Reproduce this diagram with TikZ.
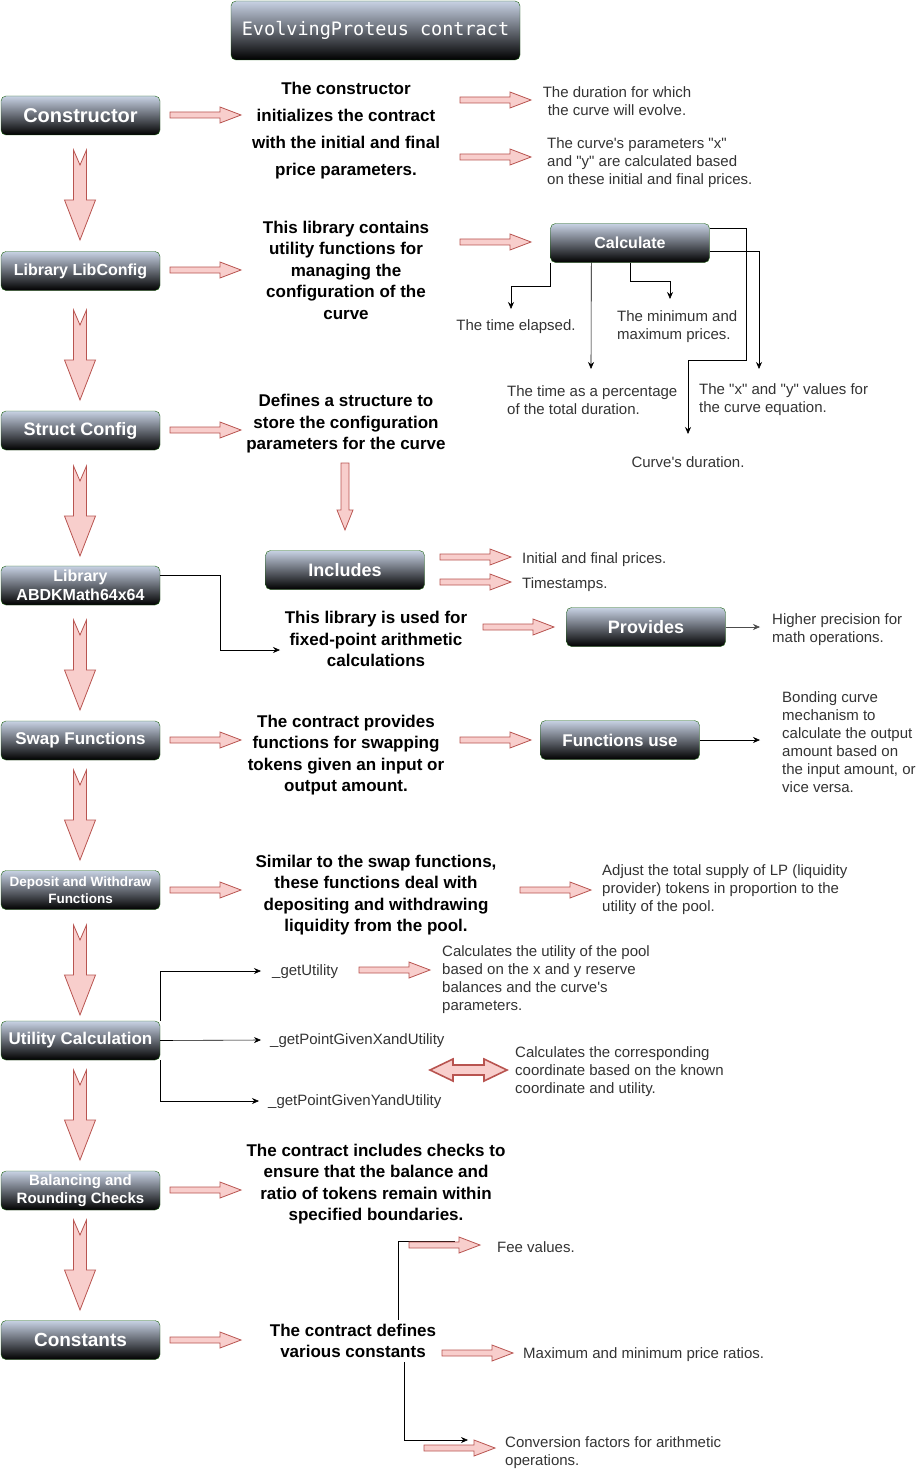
\documentclass[tikz,border=0pt]{standalone}
\usepackage{fontspec}
\setmainfont{Liberation Sans}
\setmonofont{DejaVu Sans Mono}
\usetikzlibrary{arrows.meta}

\definecolor{boxtop}{RGB}{200,210,228}
\definecolor{boxline}{RGB}{30,100,20}
\definecolor{arrfill}{RGB}{248,206,204}
\definecolor{arrline}{RGB}{184,84,80}
\newcommand{\qq}{\textquotedbl}

\tikzset{
blockarr/.style={draw=arrline,fill=arrfill,line width=0.8pt},
rarr/.pic={\draw[blockarr] (0,-3) -- (50,-3) -- (50,-8) -- (71,0) -- (50,8) -- (50,3) -- (0,3) -- cycle;},
darr/.pic={\draw[blockarr] (-6.5,0) -- (0,15) -- (6.5,0) -- (6.5,50) -- (15.5,50) -- (0,90) -- (-15.5,50) -- (-6.5,50) -- cycle;},
varr/.pic={\draw[blockarr] (-4,0) -- (4,0) -- (4,47) -- (8,47) -- (0,67) -- (-8,47) -- (-4,47) -- cycle;},
dblarr/.pic={\draw[blockarr,line width=1.6pt] (0,0) -- (23,-11) -- (23,-5) -- (54,-5) -- (54,-11) -- (77,0) -- (54,11) -- (54,5) -- (23,5) -- (23,11) -- cycle;}
}

\begin{document}
\begin{tikzpicture}[x=1pt,y=-1pt,
box/.style={rounded corners=5pt,draw=boxline,top color=boxtop,bottom color=black,text=white,
  font=\bfseries\fontsize{#1}{19}\selectfont,minimum width=159pt,minimum height=39pt,align=center,inner sep=1pt},
box/.default=17,
desc/.style={font=\bfseries\fontsize{17}{21.5}\selectfont,align=center,text=black,inner sep=0pt},
note/.style={font=\fontsize{15}{18}\selectfont,align=left,text=black!80,inner sep=0pt},
conn/.style={-{Stealth[length=7pt,width=6pt]},black,line width=0.6pt}]
\useasboundingbox (0,0) rectangle (921,1471);

% main column
\node[box,font=\ttfamily\fontsize{18.5}{22}\selectfont,minimum width=289pt,minimum height=59pt] (title) at (375.5,30.5) {EvolvingProteus contract};
\node[box=20] (ctor) at (80.5,115.5) {Constructor};
\node[box=16] (libcfg) at (80.5,271) {Library LibConfig};
\node[box=18] (struct) at (80.5,430.5) {Struct Config};
\node[box=16] (abdk) at (80.5,585.5) {Library\\ABDKMath64x64};
\node[box=17] (swap) at (80.5,740.5) {Swap Functions};
\node[box=13.5,font=\bfseries\fontsize{13.5}{16.5}\selectfont] (depo) at (80.5,890) {Deposit and Withdraw\\Functions};
\node[box=17] (util) at (80.5,1040.5) {Utility Calculation};
\node[box=15,font=\bfseries\fontsize{15}{18}\selectfont] (bal) at (80.5,1190.5) {Balancing and\\Rounding Checks};
\node[box=19] (constbox) at (80.5,1340) {Constants};
\foreach \y in {150,310,466,620,770,925,1070,1220}
  \pic at (80,\y) {darr};
\foreach \y in {115,270,430,740,890,1190,1340}
  \pic at (170,\y) {rarr};

% descriptions
\node[desc,font=\bfseries\fontsize{17}{27}\selectfont] (ctortxt) at (346,130.5) {The constructor\\initializes the contract\\with the initial and final\\price parameters.};
\node[desc] (libtxt) at (346,270) {This library contains\\utility functions for\\managing the\\configuration of the\\curve};
\node[desc] (structtxt) at (346,424) {Defines a structure to\\store the configuration\\parameters for the curve};
\node[desc] (abdktxt) at (376,639) {This library is used for\\fixed-point arithmetic\\calculations};
\node[desc] (swaptxt) at (346,755) {The contract provides\\functions for swapping\\tokens given an input or\\output amount.};
\node[desc] (depotxt) at (376,895) {Similar to the swap functions,\\these functions deal with\\depositing and withdrawing\\liquidity from the pool.};
\node[desc] (baltxt) at (376,1184) {The contract includes checks to\\ensure that the balance and\\ratio of tokens remain within\\specified boundaries.};
\node[desc] (consttxt) at (353,1341) {The contract defines\\various constants};

% constructor
\pic at (460,100) {rarr};
\pic at (460,157) {rarr};
\node[note,align=center] (durnote) at (617,101) {The duration for which\\the curve will evolve.};
\node[note,anchor=west] (parnote) at (547,163) {The curve\textquotesingle s parameters \qq x\qq\\and \qq y\qq{} are calculated based\\on these initial and final prices.};

% calculate
\pic at (460,242) {rarr};
\node[box=16] (calc) at (630,243) {Calculate};
\node[note] (elapsed) at (516,327) {The time elapsed.};
\node[note,anchor=west] (minmax) at (617,327) {The minimum and\\maximum prices.};
\node[note,anchor=west] (pct) at (507,400) {The time as a percentage\\of the total duration.};
\node[note,anchor=west] (xy) at (699,400) {The \qq x\qq{} and \qq y\qq{} values for\\the curve equation.};
\node[note] (curvedur) at (688,462) {Curve\textquotesingle s duration.};
\coordinate (elapsedtip) at (511,309);
\coordinate (pcttip) at (591,369);
\coordinate (minmaxtip) at (670,299);
\coordinate (curvetip) at (688,434);
\coordinate (xytip) at (759,369);
\draw[conn] (calc.south west) -- ++(0,24) -| (elapsedtip);
\draw[conn] ([xshift=41pt]calc.south west) -- (pcttip);
\draw[conn] (calc.south) -- ++(0,19) -| (minmaxtip);
\draw[conn] ([yshift=-5pt]calc.north east) -- ++(37,0) -- ++(0,132) -| (curvetip);
\draw[conn] ([yshift=-8pt]calc.east) -| (xytip);

% struct / includes
\pic at (345,463) {varr};
\node[box=18] (incl) at (345,570) {Includes};
\pic at (440,557) {rarr};
\pic at (440,582) {rarr};
\node[note,anchor=west] (initfin) at (522,560) {Initial and final prices.};
\node[note,anchor=west] (tstamps) at (522,585) {Timestamps.};

% abdk / provides
\coordinate (abdktip) at (280,650);
\draw[conn] ([yshift=10pt]abdk.east) -- ++(60,0) |- (abdktip);
\pic at (483,627) {rarr};
\node[box=18] (prov) at (646,627) {Provides};
\node[note,anchor=west] (hiprec) at (772,630) {Higher precision for\\math operations.};
\coordinate (hiprectip) at (760,627);
\draw[conn,black!70] (prov.east) -- (hiprectip);

% swap
\pic at (460,740) {rarr};
\node[box=17] (fnuse) at (620,740) {Functions use};
\node[note,anchor=west] (bonding) at (782,742) {Bonding curve\\mechanism to\\calculate the output\\amount based on\\the input amount, or\\vice versa.};
\coordinate (bondtip) at (760,740);
\draw[conn] (fnuse.east) -- (bondtip);

% deposit
\pic at (520,890) {rarr};
\node[note,anchor=west] (adjust) at (602,890) {Adjust the total supply of LP (liquidity\\provider) tokens in proportion to the\\utility of the pool.};

% utility
\node[note,anchor=west] (getutil) at (272,972) {\_getUtility};
\node[note,anchor=west] (getx) at (270,1041) {\_getPointGivenXandUtility};
\node[note,anchor=west] (gety) at (268,1102) {\_getPointGivenYandUtility};
\draw[conn] (util.north east) |- ([xshift=-11pt,yshift=1pt]getutil.west);
\draw[conn] (util.east) -- ([xshift=-9pt,yshift=1pt]getx.west);
\draw[conn] (util.south east) |- ([xshift=-9pt,yshift=1pt]gety.west);
\pic at (359,970) {rarr};
\node[note,anchor=west] (utilnote) at (442,980) {Calculates the utility of the pool\\based on the x and y reserve\\balances and the curve\textquotesingle s\\parameters.};
\pic at (430,1070) {dblarr};
\node[note,anchor=west] (coordnote) at (515,1072) {Calculates the corresponding\\coordinate based on the known\\coordinate and utility.};

% constants
\coordinate (feetip) at (455,1241);
\coordinate (convtip) at (468,1440);
\draw[line width=0.6pt] ([xshift=45pt,yshift=4pt]consttxt.north) |- (feetip);
\draw[conn] ([xshift=51pt,yshift=-4pt]consttxt.south) |- (convtip);
\pic at (409,1245) {rarr};
\pic at (442,1353) {rarr};
\pic at (424,1448) {rarr};
\node[note,anchor=west] (fee) at (497,1247) {Fee values.};
\node[note,anchor=west] (maxmin) at (523,1355) {Maximum and minimum price ratios.};
\node[note,anchor=west] (conv) at (505,1453) {Conversion factors for arithmetic\\operations.};
\end{tikzpicture}
\end{document}
